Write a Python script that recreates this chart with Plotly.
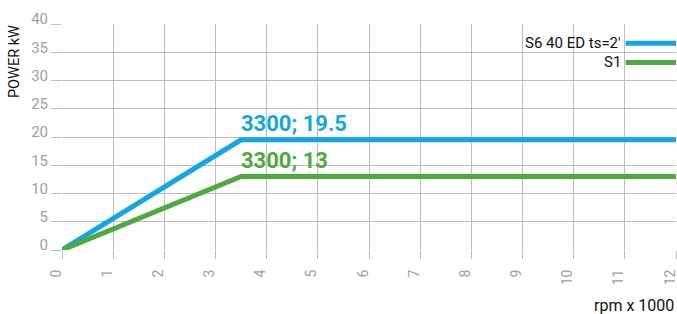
import plotly.graph_objects as go

rpm = [0, 3.5, 12]
s6_power = [0, 19.5, 19.5]
s1_power = [0, 13, 13]
x_ticks = list(range(0, 13))
y_ticks = list(range(0, 45, 5))

BLUE = "#12A7E0"
GREEN = "#4EA93F"
GRID = "#BDBDBD"
TICKC = "#A0A0A0"

fig = go.Figure()
fig.add_trace(go.Scatter(x=rpm, y=s6_power, mode="lines", line=dict(color=BLUE, width=5),
                         name="S6 40 ED ts=2'", showlegend=False))
fig.add_trace(go.Scatter(x=rpm, y=s1_power, mode="lines", line=dict(color=GREEN, width=5),
                         name="S1", showlegend=False))

fig.add_annotation(x=rpm[1], y=s6_power[1], text="<b>3300; 19.5</b>", showarrow=False,
                   xanchor="left", yanchor="bottom", yshift=2, xshift=-2,
                   font=dict(family="Roboto", size=22, color=BLUE))
fig.add_annotation(x=rpm[1], y=s1_power[1], text="<b>3300; 13</b>", showarrow=False,
                   xanchor="left", yanchor="bottom", yshift=2, xshift=-2,
                   font=dict(family="Roboto", size=22, color=GREEN))

# legend (text left of line sample, as in the reference)
for i, (name, col) in enumerate([("S6 40 ED ts=2'", BLUE), ("S1", GREEN)]):
    yp = 0.915 - i * 0.085
    fig.add_shape(type="line", xref="paper", yref="paper", x0=0.918, x1=1.0, y0=yp, y1=yp,
                  line=dict(color=col, width=5))
    fig.add_annotation(xref="paper", yref="paper", x=0.913, y=yp, text=name, showarrow=False,
                       xanchor="right", yanchor="middle",
                       font=dict(family="Roboto", size=15, color="#111111"))

fig.add_annotation(xref="paper", yref="paper", x=-0.077, y=1.005, text="POWER kW", textangle=-90,
                   showarrow=False, xanchor="center", yanchor="top",
                   font=dict(family="Roboto", size=14.5, color="#111111"))
fig.add_annotation(xref="paper", yref="paper", x=1.0, y=-0.195, text="rpm x 1000",
                   showarrow=False, xanchor="right", yanchor="top",
                   font=dict(family="Roboto", size=16, color="#111111"))

fig.update_xaxes(range=[0, 12], tickvals=x_ticks, ticktext=[str(v) for v in x_ticks],
                 tickangle=-90, showgrid=True, gridcolor=GRID, gridwidth=1,
                 ticks="outside", ticklen=8, tickcolor=GRID, zeroline=False, automargin=False,
                 ticklabeloverflow="allow", ticklabelshift=-6, ticklabelstandoff=5,
                 showline=False, tickfont=dict(family="Roboto", size=14, color=TICKC))
fig.update_yaxes(range=[0, 40], tickvals=y_ticks, showgrid=True, gridcolor=GRID, gridwidth=1,
                 ticks="outside", ticklen=10, tickcolor=GRID, zeroline=False, automargin=False,
                 ticklabelshift=-5,
                 showline=False, tickfont=dict(family="Roboto", size=15, color=TICKC))

fig.update_layout(width=677, height=314,
                  margin=dict(l=62, r=1, t=24, b=64, autoexpand=False),
                  plot_bgcolor="white", paper_bgcolor="white", showlegend=False)

fig.write_html("out.html", config={"displayModeBar": False},
               post_script="document.body.style.margin='0px';document.body.style.overflow='hidden';")
